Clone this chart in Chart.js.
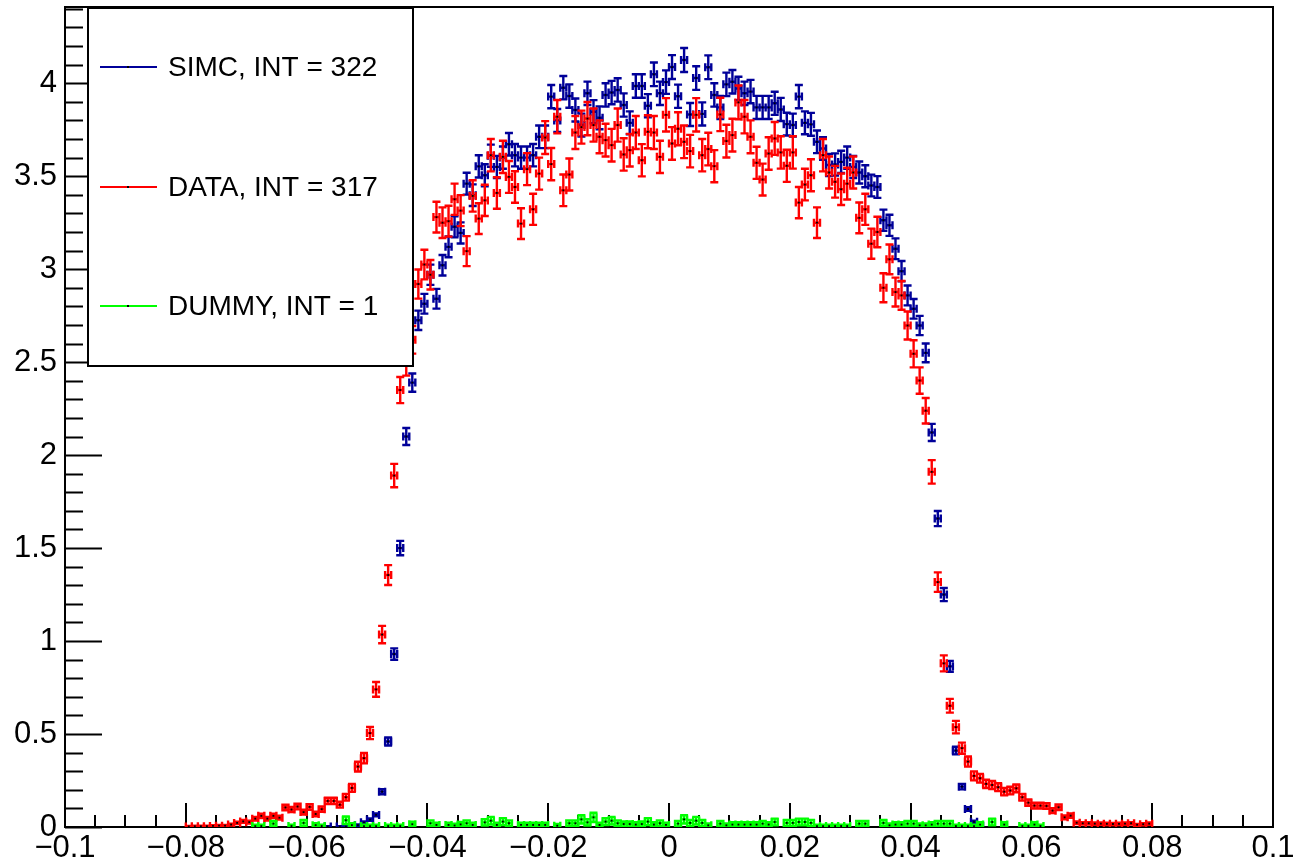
<!DOCTYPE html>
<html>
<head>
<meta charset="utf-8">
<script src="https://cdn.jsdelivr.net/npm/chart.js@4.4.1/dist/chart.umd.min.js"></script>
<style>
  html, body { margin: 0; padding: 0; background: #fff; }
  #wrap { width: 1300px; height: 865px; }
</style>
</head>
<body>
<div id="wrap"><canvas id="c" width="1300" height="865"></canvas></div>
<script>
// histogram binning: 160 bins of 0.001 from -0.08 to 0.08
const BIN_START = -0.08;
const BIN_WIDTH = 0.001;

const X_TICKS = [-0.1, -0.08, -0.06, -0.04, -0.02, 0, 0.02, 0.04, 0.06, 0.08, 0.1];
const X_LABELS = ['\u22120.1', '\u22120.08', '\u22120.06', '\u22120.04', '\u22120.02', '0', '0.02', '0.04', '0.06', '0.08', '0.1'];
const Y_TICKS = [0, 0.5, 1, 1.5, 2, 2.5, 3, 3.5, 4];
const Y_LABELS = ['0', '0.5', '1', '1.5', '2', '2.5', '3', '3.5', '4'];

const simcValues = [
  null, null, null, null, null, null, null, null, null, null,
  null, null, null, null, null, null, null, null, null, null,
  null, null, 0.003, 0.003, null, 0.003, 0.003, null, 0.010, 0.025,
  0.040, 0.065, 0.190, 0.460, 0.930, 1.500, 2.100, 2.390, 2.725, 2.814,
  2.970, 2.841, 3.021, 3.120, 3.228, 3.195, 3.460, 3.398, 3.553, 3.505,
  3.610, 3.550, 3.600, 3.672, 3.613, 3.600, 3.600, 3.613, 3.712, 3.712,
  3.928, 3.800, 3.976, 3.931, 3.856, 3.775, 3.946, 3.847, 3.814, 3.937,
  3.950, 3.964, 3.883, 3.787, 3.985, 3.985, 3.879, 4.048, 3.946, 4.006,
  4.087, 3.930, 4.125, 3.832, 4.028, 3.835, 4.086, 3.937, 3.870, 3.994,
  4.008, 3.972, 3.946, 3.955, 3.870, 3.870, 3.870, 3.892, 3.859, 3.780,
  3.775, 3.928, 3.787, 3.779, 3.685, 3.649, 3.560, 3.563, 3.577, 3.600,
  3.550, 3.520, 3.500, 3.450, 3.442, 3.263, 3.236, 3.110, 2.989, 2.859,
  2.787, 2.697, 2.550, 2.122, 1.659, 1.250, 0.864, 0.411, 0.217, 0.097,
  0.028, 0.005, null, null, null, null, null, null, null, null,
  null, null, null, null, null, null, null, null, null, null,
  null, null, null, null, null, null, null, null, null, null
];

const dataValues = [
  0.003, 0.004, 0.004, 0.004, 0.006, 0.007, 0.007, 0.013, 0.022, 0.030,
  0.026, 0.045, 0.060, 0.045, 0.060, 0.050, 0.105, 0.094, 0.110, 0.080,
  0.108, 0.070, 0.096, 0.140, 0.140, 0.120, 0.160, 0.210, 0.325, 0.370,
  0.505, 0.740, 1.035, 1.355, 1.890, 2.350, 2.500, 2.620, 2.920, 3.025,
  2.970, 3.280, 3.250, 3.258, 3.376, 3.315, 3.097, 3.394, 3.272, 3.370,
  3.613, 3.410, 3.604, 3.496, 3.442, 3.245, 3.538, 3.322, 3.514, 3.708,
  3.565, 3.820, 3.424, 3.509, 3.735, 3.764, 3.810, 3.775, 3.712, 3.694,
  3.667, 3.775, 3.617, 3.640, 3.735, 3.586, 3.739, 3.735, 3.604, 3.830,
  3.676, 3.755, 3.685, 3.635, 3.830, 3.613, 3.646, 3.554, 3.832, 3.689,
  3.721, 3.897, 3.820, 3.712, 3.572, 3.482, 3.622, 3.703, 3.628, 3.556,
  3.628, 3.358, 3.455, 3.505, 3.250, 3.613, 3.520, 3.470, 3.430, 3.460,
  3.520, 3.276, 3.322, 3.137, 3.200, 2.900, 3.053, 2.877, 2.859, 2.697,
  2.545, 2.401, 2.239, 1.910, 1.317, 0.880, 0.652, 0.537, 0.424, 0.352,
  0.275, 0.262, 0.232, 0.226, 0.214, 0.190, 0.196, 0.208, 0.160, 0.131,
  0.115, 0.115, 0.113, 0.088, 0.106, 0.052, 0.061, 0.023, 0.020, 0.020,
  0.018, 0.018, 0.017, 0.016, 0.017, 0.018, 0.020, 0.012, 0.015, 0.018
];

const dummyValues = [
  null, null, null, null, null, null, null, null, null, null,
  null, 0.005, 0.005, null, 0.018, null, null, 0.005, null, 0.022,
  null, 0.010, 0.005, null, null, null, 0.036, 0.010, null, 0.005,
  0.005, 0.005, null, 0.005, 0.005, 0.005, null, 0.015, null, null,
  0.020, 0.011, null, 0.011, 0.008, 0.014, 0.020, 0.011, null, 0.025,
  0.034, 0.011, 0.029, 0.020, null, 0.011, 0.011, 0.011, 0.011, 0.011,
  null, 0.007, null, 0.020, 0.020, 0.041, 0.025, 0.052, 0.011, 0.029,
  0.034, 0.020, 0.016, 0.016, 0.013, 0.016, 0.029, 0.013, 0.020, 0.011,
  null, 0.018, 0.041, 0.022, 0.034, 0.022, 0.009, null, 0.018, 0.009,
  0.013, 0.013, 0.013, 0.013, 0.013, 0.018, 0.013, 0.027, null, 0.022,
  0.022, 0.027, 0.027, 0.022, 0.005, 0.005, 0.005, 0.005, 0.005, 0.005,
  null, 0.018, 0.018, null, null, 0.022, 0.009, 0.013, 0.013, 0.018,
  0.018, 0.009, 0.009, 0.013, 0.018, 0.018, 0.018, 0.005, 0.005, 0.005,
  0.005, 0.013, null, 0.027, null, 0.013, null, null, 0.005, 0.005,
  0.013, 0.005, null, null, null, null, null, null, null, null,
  null, null, null, null, null, null, null, null, null, null
];

// per-entry weight of each histogram, error = sqrt(weight * content)
const simcWeight = 0.0010;
const dataWeight = 0.0021;
const dummyWeight = 0.012;

const FONT = '"Liberation Sans", Arial, Helvetica, sans-serif';
const CAP = 4;

function toPoints(values) {
    const pts = [];
    values.forEach((v, i) => {
        if (v !== null) pts.push({ x: BIN_START + BIN_WIDTH * (i + 0.5), y: v });
    });
    return pts;
}

const rootStyle = {
    id: 'rootStyle',
    beforeDatasetsDraw(chart) {
        const { ctx, chartArea: a, scales: { x, y } } = chart;
        ctx.save();
        ctx.strokeStyle = '#000';
        ctx.lineWidth = 2;
        ctx.beginPath();
        for (let k = 0; k <= 44; k++) {
            const py = Math.round(y.getPixelForValue(k / 10)) + 0.5;
            const len = k % 5 === 0 ? 37 : 18;
            ctx.moveTo(a.left, py);
            ctx.lineTo(a.left + len, py);
        }
        for (let k = -20; k <= 20; k++) {
            const px = Math.round(x.getPixelForValue(k * 0.005));
            const len = k % 4 === 0 ? 24 : 12;
            ctx.moveTo(px, a.bottom);
            ctx.lineTo(px, a.bottom - len);
        }
        ctx.stroke();
        ctx.strokeRect(a.left, a.top, a.right - a.left, a.bottom - a.top);
        ctx.restore();
    },
    beforeDatasetDraw(chart, args) {
        const ds = chart.data.datasets[args.index];
        const { ctx, chartArea: a, scales: { x, y } } = chart;
        ctx.save();
        ctx.beginPath();
        ctx.rect(a.left, a.top, a.right - a.left, a.bottom - a.top);
        ctx.clip();
        ctx.strokeStyle = ds.borderColor;
        ctx.lineWidth = 2.4;
        ctx.beginPath();
        ds.data.forEach(p => {
            const err = Math.sqrt(ds.weight * p.y);
            const cx = x.getPixelForValue(p.x);
            const x0 = x.getPixelForValue(p.x - BIN_WIDTH / 2);
            const x1 = x.getPixelForValue(p.x + BIN_WIDTH / 2);
            const cy = y.getPixelForValue(p.y);
            const yt = y.getPixelForValue(p.y + err);
            const yb = y.getPixelForValue(p.y - err);
            ctx.moveTo(cx, yt); ctx.lineTo(cx, yb);
            ctx.moveTo(cx - CAP, yt); ctx.lineTo(cx + CAP, yt);
            ctx.moveTo(cx - CAP, yb); ctx.lineTo(cx + CAP, yb);
            ctx.moveTo(x0, cy); ctx.lineTo(x1, cy);
            ctx.moveTo(x0, cy - CAP); ctx.lineTo(x0, cy + CAP);
            ctx.moveTo(x1, cy - CAP); ctx.lineTo(x1, cy + CAP);
        });
        ctx.stroke();
        ctx.restore();
    },
    afterDraw(chart) {
        const ctx = chart.ctx;
        const box = { left: 88, top: 8, right: 413, bottom: 366 };
        const rows = [67, 187, 306];
        ctx.save();
        ctx.fillStyle = '#fff';
        ctx.fillRect(box.left, box.top, box.right - box.left, box.bottom - box.top);
        ctx.strokeStyle = '#000';
        ctx.lineWidth = 2;
        ctx.strokeRect(box.left, box.top, box.right - box.left, box.bottom - box.top);
        chart.data.datasets.forEach((ds, r) => {
            const ly = rows[r];
            ctx.strokeStyle = ds.borderColor;
            ctx.lineWidth = 2;
            ctx.beginPath();
            ctx.moveTo(100, ly);
            ctx.lineTo(157, ly);
            ctx.stroke();
            ctx.fillStyle = '#000';
            ctx.fillRect(127, ly - 1, 2, 2);
            ctx.font = '28px ' + FONT;
            ctx.textBaseline = 'middle';
            ctx.textAlign = 'left';
            ctx.fillText(ds.label, 168, ly + 1);
        });
        ctx.restore();
    }
};

new Chart(document.getElementById('c'), {
    type: 'scatter',
    data: {
        datasets: [
            { label: 'SIMC, INT = 322', data: toPoints(simcValues), weight: simcWeight,
              borderColor: '#000099', order: 3 },
            { label: 'DATA, INT = 317', data: toPoints(dataValues), weight: dataWeight,
              borderColor: '#ff0000', order: 2 },
            { label: 'DUMMY, INT = 1', data: toPoints(dummyValues), weight: dummyWeight,
              borderColor: '#00ff00', order: 1 }
        ].map(d => Object.assign(d, {
            pointStyle: 'rect',
            pointRadius: 1.3,
            pointBorderWidth: 0,
            pointBackgroundColor: '#000',
            showLine: false
        }))
    },
    options: {
        responsive: false,
        animation: false,
        devicePixelRatio: 1,
        layout: { padding: { top: 7, right: 27, left: 0, bottom: 0 } },
        plugins: {
            legend: { display: false },
            tooltip: { enabled: false }
        },
        scales: {
            x: {
                type: 'linear',
                min: -0.1,
                max: 0.1,
                afterFit: s => { s.height = 38; s.paddingLeft = 0; s.paddingRight = 0; },
                afterBuildTicks: s => { s.ticks = X_TICKS.map(v => ({ value: v })); },
                grid: { display: false, drawTicks: false },
                border: { display: false },
                ticks: {
                    autoSkip: false,
                    maxRotation: 0,
                    padding: 3,
                    color: '#000',
                    font: { family: FONT, size: 31 },
                    callback: (v, i) => X_LABELS[i]
                }
            },
            y: {
                type: 'linear',
                min: 0,
                max: 4.41,
                afterFit: s => { s.width = 65; s.paddingTop = 0; s.paddingBottom = 0; },
                afterBuildTicks: s => { s.ticks = Y_TICKS.map(v => ({ value: v })); },
                grid: { display: false, drawTicks: false },
                border: { display: false },
                ticks: {
                    padding: 8,
                    color: '#000',
                    font: { family: FONT, size: 31 },
                    callback: (v, i) => Y_LABELS[i]
                }
            }
        }
    },
    plugins: [rootStyle]
});
</script>
</body>
</html>
